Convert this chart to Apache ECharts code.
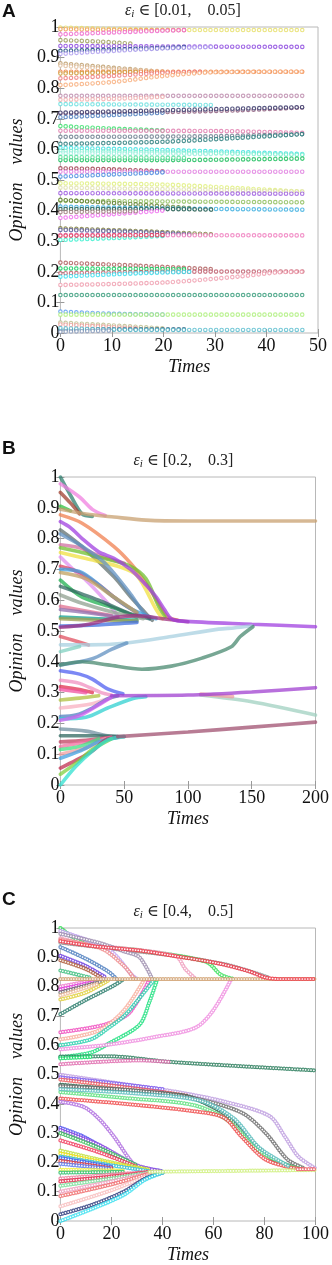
<!doctype html>
<html><head><meta charset="utf-8">
<style>
  html,body,#app{margin:0;padding:0;width:332px;height:1265px;background:#ffffff}
</style>
</head><body><div id="app"></div>
<script src="https://cdn.jsdelivr.net/npm/echarts@6/dist/echarts.min.js"></script>
<script>
// panel headings
const panelLetters = ['A', 'B', 'C'];
const panelRanges = ['[0.01,    0.05]', '[0.2,    0.3]', '[0.4,    0.5]'];
// axes
const xMax = [50, 200, 100];
const xStep = [10, 50, 20];
const yTicks = [0, 0.1, 0.2, 0.3, 0.4, 0.5, 0.6, 0.7, 0.8, 0.9, 1];

// A: eps in [0.01, 0.05] -- key points [time, opinion]
const trajA = [
  [[0,0.998],[15,0.992],[25,0.99],[47,0.99]],
  [[0,0.993],[15,0.99],[25,0.99]],
  [[0,0.976],[10,0.982],[20,0.988],[25,0.99]],
  [[0,0.957],[8,0.952],[14,0.945]],
  [[0,0.938],[25,0.936],[47,0.935]],
  [[0,0.922],[10,0.926],[25,0.935]],
  [[0,0.912],[8,0.92],[20,0.93],[30,0.935]],
  [[0,0.881],[8,0.87],[18,0.856]],
  [[0,0.874],[10,0.862],[20,0.855]],
  [[0,0.854],[47,0.854]],
  [[0,0.848],[15,0.853]],
  [[0,0.832],[10,0.84],[20,0.85],[28,0.854]],
  [[0,0.81],[10,0.82],[20,0.84],[30,0.852],[47,0.854]],
  [[0,0.775],[47,0.775]],
  [[0,0.762],[10,0.765],[20,0.772]],
  [[0,0.748],[30,0.745]],
  [[0,0.718],[20,0.722],[35,0.728],[47,0.737]],
  [[0,0.705],[10,0.712],[20,0.72]],
  [[0,0.72],[47,0.738]],
  [[0,0.676],[10,0.668],[20,0.662]],
  [[0,0.661],[30,0.66],[47,0.654]],
  [[0,0.641],[30,0.643],[47,0.65]],
  [[0,0.618],[20,0.625],[35,0.638],[47,0.65]],
  [[0,0.605],[20,0.598],[47,0.585]],
  [[0,0.595],[20,0.59],[47,0.582]],
  [[0,0.587],[30,0.585]],
  [[0,0.565],[20,0.565],[47,0.57]],
  [[0,0.575],[25,0.572]],
  [[0,0.538],[10,0.535],[20,0.528]],
  [[0,0.527],[47,0.527]],
  [[0,0.511],[10,0.518],[20,0.525]],
  [[0,0.489],[20,0.485],[35,0.473],[47,0.462]],
  [[0,0.475],[20,0.47],[47,0.462]],
  [[0,0.457],[47,0.455]],
  [[0,0.432],[47,0.427]],
  [[0,0.435],[15,0.42],[25,0.408]],
  [[0,0.413],[20,0.407],[47,0.403]],
  [[0,0.405],[20,0.405],[30,0.403]],
  [[0,0.376],[10,0.388],[20,0.4]],
  [[0,0.395],[15,0.398]],
  [[0,0.342],[20,0.33],[30,0.322]],
  [[0,0.337],[15,0.33],[25,0.322]],
  [[0,0.32],[47,0.319]],
  [[0,0.304],[10,0.31],[20,0.317]],
  [[0,0.318],[20,0.32]],
  [[0,0.23],[15,0.22],[30,0.208]],
  [[0,0.211],[25,0.208]],
  [[0,0.195],[20,0.2],[47,0.201]],
  [[0,0.184],[15,0.195],[25,0.2]],
  [[0,0.157],[20,0.165],[35,0.185],[42,0.198],[47,0.2]],
  [[0,0.124],[47,0.124]],
  [[0,0.07],[10,0.063],[20,0.06]],
  [[0,0.06],[47,0.06]],
  [[0,0.034],[10,0.025],[20,0.015]],
  [[0,0.028],[15,0.015]],
  [[0,0.01],[10,0.012],[25,0.012]],
  [[0,0.016],[15,0.01],[47,0.01]],
  [[0,0.004],[10,0.008]]
];

// B: eps in [0.2, 0.3]
const trajB = [
  [[0,1.0],[8,0.94],[17,0.88],[25,0.872]],
  [[0,0.978],[15,0.935],[25,0.895],[35,0.875]],
  [[0,0.95],[8,0.915],[15,0.88]],
  [[0,0.905],[8,0.89]],
  [[0,0.895],[20,0.88],[42,0.87],[67,0.86],[100,0.857],[200,0.857]],
  [[0,0.877],[17,0.85],[42,0.774],[55,0.72],[67,0.655],[77,0.59],[84,0.546],[92,0.535]],
  [[0,0.828],[17,0.774],[42,0.676],[55,0.611],[67,0.557],[72,0.535]],
  [[0,0.78],[15,0.77],[30,0.745],[50,0.72]],
  [[0,0.77],[17,0.755],[30,0.74],[55,0.71],[67,0.67],[77,0.58],[82,0.546]],
  [[0,0.755],[20,0.735],[45,0.71],[60,0.68],[75,0.57],[80,0.54]],
  [[0,0.815],[17,0.775],[35,0.72],[55,0.62],[65,0.56],[70,0.54]],
  [[0,0.74],[10,0.70],[20,0.665],[35,0.6],[45,0.55]],
  [[0,0.71],[15,0.69],[30,0.65],[45,0.6],[60,0.56]],
  [[0,0.70],[17,0.69],[42,0.61],[54,0.575],[67,0.55],[75,0.54]],
  [[0,0.69],[20,0.67],[42,0.61],[60,0.56]],
  [[0,0.665],[17,0.61],[42,0.575],[60,0.545]],
  [[0,0.645],[30,0.6],[54,0.557],[70,0.54]],
  [[0,0.617],[17,0.59],[42,0.56],[65,0.54]],
  [[0,0.58],[20,0.565],[40,0.55]],
  [[0,0.57],[20,0.56],[45,0.545]],
  [[0,0.545],[30,0.54],[60,0.535]],
  [[0,0.54],[30,0.535],[60,0.532]],
  [[0,0.516],[30,0.52],[60,0.528]],
  [[0,0.512],[20,0.52],[45,0.545],[60,0.55],[80,0.54],[100,0.53]],
  [[0,0.855],[8,0.835],[17,0.80],[30,0.757],[42,0.736],[55,0.70],[67,0.65],[75,0.611],[82,0.567],[87,0.54],[95,0.532],[150,0.522],[200,0.514]],
  [[0,0.482],[10,0.47],[22,0.455]],
  [[0,0.455],[22,0.455],[52,0.461],[87,0.482],[124,0.506],[136,0.51],[150,0.516]],
  [[0,0.433],[15,0.45]],
  [[0,0.39],[25,0.41],[40,0.44],[52,0.461]],
  [[0,0.39],[17,0.40],[37,0.39],[64,0.376],[87,0.386],[111,0.412],[134,0.449],[141,0.482],[151,0.514]],
  [[0,0.371],[15,0.36],[25,0.344],[37,0.312],[49,0.296]],
  [[0,0.34],[15,0.33],[32,0.30],[40,0.292]],
  [[0,0.32],[15,0.31],[25,0.30]],
  [[0,0.31],[20,0.3]],
  [[0,0.276],[15,0.282],[30,0.29]],
  [[0,0.25],[25,0.264],[37,0.28],[45,0.29]],
  [[0,0.222],[12,0.227],[25,0.25],[37,0.28],[45,0.29]],
  [[0,0.215],[20,0.22],[37,0.25],[57,0.281],[67,0.287]],
  [[0,0.21],[15,0.225],[30,0.26],[40,0.285]],
  [[110,0.292],[150,0.27],[200,0.227]],
  [[110,0.295],[135,0.287]],
  [[40,0.29],[100,0.292],[150,0.302],[200,0.316]],
  [[0,0.182],[20,0.175],[37,0.16],[50,0.157]],
  [[0,0.16],[25,0.16],[45,0.157]],
  [[0,0.14],[20,0.145],[40,0.155]],
  [[0,0.125],[20,0.14],[40,0.155]],
  [[0,0.115],[15,0.125],[30,0.15]],
  [[0,0.10],[20,0.12],[35,0.15]],
  [[0,0.087],[15,0.11],[30,0.14],[45,0.155]],
  [[0,0.055],[12,0.08],[25,0.11],[35,0.145],[45,0.155]],
  [[0,0.035],[12,0.07],[25,0.115],[40,0.15]],
  [[0,0.0],[12,0.06],[25,0.11],[37,0.146],[50,0.157]],
  [[45,0.157],[100,0.172],[150,0.188],[200,0.204]]
];

// C: eps in [0.4, 0.5]
const trajC = [
  [[0,0.95],[20,0.93],[45,0.905],[65,0.875],[75,0.85],[82,0.83]],
  [[0,1.0],[10,0.945],[30,0.925],[57,0.885],[63,0.84],[68,0.826]],
  [[0,0.965],[10,0.945],[45,0.905],[49,0.86],[53,0.826]],
  [[0,0.99],[10,0.96],[20,0.92],[28,0.84],[30,0.826]],
  [[0,0.98],[15,0.95],[25,0.92],[31,0.9],[36,0.826]],
  [[0,0.96],[16,0.93],[25,0.87],[29,0.826]],
  [[0,0.935],[10,0.895],[19,0.85],[22,0.826]],
  [[0,0.905],[10,0.87],[18,0.83]],
  [[0,0.89],[10,0.86],[16,0.83]],
  [[0,0.855],[12,0.83]],
  [[0,0.80],[12,0.82]],
  [[0,0.79],[15,0.82]],
  [[0,0.78],[18,0.822]],
  [[0,0.756],[10,0.78],[18.6,0.82]],
  [[0,0.77],[15,0.81]],
  [[0,0.706],[9,0.75],[21,0.804],[25,0.826]],
  [[0,0.644],[12,0.66],[19,0.675],[27,0.71],[35,0.826]],
  [[0,0.62],[15,0.65],[25,0.72],[33,0.826]],
  [[0,0.60],[12,0.62],[19,0.66],[25,0.7],[30,0.75],[37,0.826]],
  [[0,0.559],[12,0.575],[19,0.606],[31,0.67],[35,0.75],[38,0.826]],
  [[0,0.586],[19,0.602],[37,0.628],[53,0.66],[60,0.72],[67,0.826]],
  [[0,0.826],[100,0.826]],
  [[0,0.955],[12,0.939],[31,0.923],[43,0.907],[62,0.879],[74,0.852],[80,0.832],[85,0.826],[100,0.826]],
  [[0,0.561],[19,0.562],[43,0.543],[100,0.514]],
  [[0,0.535],[31,0.548],[43,0.543]],
  [[0,0.555],[12,0.56]],
  [[0,0.499],[25,0.467],[46,0.44],[64.5,0.407],[82,0.358],[88,0.288],[93,0.223],[98,0.19],[100,0.18]],
  [[0,0.49],[21,0.47],[40,0.45]],
  [[0,0.483],[21,0.461],[40,0.44],[50,0.427]],
  [[0,0.465],[21,0.45],[46,0.431],[52,0.42],[64.5,0.364],[73,0.288],[83,0.212],[93,0.18]],
  [[0,0.46],[30,0.445],[52,0.42],[71,0.37],[80.5,0.30],[89,0.21],[95,0.182]],
  [[0,0.44],[25,0.42],[52,0.396],[65.7,0.343],[77,0.245],[89,0.19],[95,0.177]],
  [[0,0.418],[25,0.4],[52,0.375],[64,0.353],[71,0.288],[80,0.212],[89,0.185],[95,0.177]],
  [[0,0.45],[30,0.435],[55,0.41],[68,0.35],[78,0.25],[90,0.185]],
  [[0,0.407],[9,0.39],[15,0.35],[21,0.288],[27,0.212],[30.5,0.18],[35,0.17]],
  [[0,0.318],[9,0.288],[21,0.228],[27,0.195],[33,0.18],[40,0.17]],
  [[0,0.31],[15,0.26],[30,0.19],[40,0.17]],
  [[0,0.30],[15,0.25],[30,0.19]],
  [[0,0.275],[15,0.235],[30,0.185]],
  [[0,0.24],[20,0.2],[35,0.175]],
  [[0,0.23],[20,0.195],[35,0.172]],
  [[0,0.22],[20,0.19],[35,0.17]],
  [[0,0.215],[20,0.185]],
  [[0,0.205],[20,0.18]],
  [[0,0.195],[20,0.178]],
  [[0,0.175],[25,0.172]],
  [[0,0.165],[25,0.168]],
  [[0,0.145],[20,0.158],[35,0.168]],
  [[0,0.135],[20,0.152],[35,0.167]],
  [[0,0.12],[20,0.145],[35,0.165]],
  [[0,0.10],[20,0.135],[35,0.163]],
  [[0,0.085],[20,0.125],[35,0.162]],
  [[0,0.05],[20,0.105],[35,0.158]],
  [[0,0.023],[12.4,0.055],[24.8,0.10],[33.5,0.146],[40,0.165]],
  [[0,0.0],[12,0.04],[25,0.09],[33,0.14],[40,0.165]],
  [[35,0.168],[100,0.174]],
  [[93,0.177],[100,0.177]]
];

// colours, one per trajectory
const colorsA = ['#e8e070','#f0a060','#f070d0','#a0a060','#9050e0','#205080','#b0a0f0','#c0a070','#e0c0a0','#f08040',
  '#d0a040','#f08080','#f8b080','#c090b0','#f0b0b0','#70e0e0','#906080','#5080c0','#404070','#40e070',
  '#e080b0','#708090','#308080','#40e0e0','#80f0d0','#a0f0e0','#20c060','#60e0a0','#a04050','#e080e0',
  '#5090e0','#e0f080','#e0e0b0','#a060e0','#90c060','#608030','#40b0e0','#306050','#f070f0','#a08080',
  '#808040','#6060a0','#f080c0','#40f0d0','#e04060','#b06060','#10d060','#c06070','#40e0f0','#f0a0b0',
  '#40a080','#60a0f0','#b0f080','#c0c090','#f0a0a0','#306080','#60c0d0','#90a0c0'];
const colorsB = ['#308070','#f080e0','#a04030','#30c040','#c8a070','#f08050','#607070','#d070a0','#70c030','#f0e040',
  '#6090c0','#e090f0','#e04060','#40a0e0','#c0a060','#20b050','#306860','#90a090','#e07090','#9070b0',
  '#10a090','#a0a050','#4070e0','#a03080','#a040e0','#e05060','#a8d0e0','#80d0c0','#6090c0','#4a8a70',
  '#5060f0','#f090c0','#e03050','#f050a0','#b0c040','#f8b0c0','#5080c0','#30d0d0','#d060f0','#a0d0c0',
  '#f0a0a0','#a040d0','#7090a0','#306860','#c04060','#f070a0','#40e080','#f0a0a0','#40a0e0','#c03050',
  '#80d040','#30e0d0','#a05070'];
const colorsC = ['#909090','#40e060','#f0a0c0','#c0a0f0','#a090b0','#f09090','#5080c0','#7040e0','#b06040','#40c080',
  '#f080d0','#e040e0','#707070','#e0d040','#f0c0a0','#308070','#f050c0','#f8b0a0','#30d0b0','#20e080',
  '#f090e0','#d0a070','#f04050','#308060','#e070b0','#20e070','#c0a0e0','#8060f0','#f06060','#306850',
  '#707070','#60e080','#f05050','#60c0c0','#b070e0','#5050f0','#9050e0','#40c060','#f04060','#c0e040',
  '#f0e020','#30c0e0','#4060f0','#e04040','#6080f0','#f0f040','#30c070','#f080a0','#e03050','#80e0a0',
  '#f0a0c0','#f07070','#f8c0c0','#304080','#40e0f0','#d0f080','#f06070'];

(function () {
  const serif = "'Liberation Serif', 'DejaVu Serif', serif";
  const grids = [
    { left: 50, top: 27, width: 268, height: 306 },
    { left: 50, top: 477, width: 269, height: 308 },
    { left: 50, top: 928, width: 269, height: 307 }
  ];
  const trajs = [trajA, trajB, trajC];
  const colors = [colorsA, colorsB, colorsC];
  // marker look: A and C as rings (colour dot + white centre), B as thick band
  const looks = [
    { w: 4.6, gap: 5.36, inner: 2.3, op: 0.85 },
    { w: 3.6, gap: 0, inner: 0, op: 0.75 },
    { w: 4.2, gap: 2.69, inner: 1.7, op: 0.85 }
  ];

  const xAxis = [], yAxis = [], series = [], graphic = [];
  const tickStyle = { show: true, inside: true, length: 4, lineStyle: { color: '#999', width: 1 } };

  grids.forEach(function (g, i) {
    g.show = true; g.borderColor = '#b8b8b8'; g.borderWidth = 1;
    xAxis.push({
      type: 'value', gridIndex: i, min: 0, max: xMax[i], interval: xStep[i],
      name: 'Times', nameLocation: 'middle', nameGap: 25,
      nameTextStyle: { fontFamily: serif, fontStyle: 'italic', fontSize: 18, color: '#111' },
      axisLine: { show: false }, axisTick: tickStyle, splitLine: { show: false },
      axisLabel: { fontFamily: serif, fontSize: 18, color: '#111', margin: 4 }
    });
    xAxis.push({
      type: 'value', gridIndex: i, position: 'top', min: 0, max: xMax[i], interval: xStep[i],
      axisLine: { show: false }, axisTick: tickStyle, splitLine: { show: false }, axisLabel: { show: false }
    });
    yAxis.push({
      type: 'value', gridIndex: i, min: 0, max: 1, interval: 0.1,
      name: 'Opinion    values', nameLocation: 'middle', nameGap: 27, nameRotate: 90,
      nameTextStyle: { fontFamily: serif, fontStyle: 'italic', fontSize: 18, color: '#111' },
      axisLine: { show: false }, axisTick: tickStyle, splitLine: { show: false },
      axisLabel: {
        fontFamily: serif, fontSize: 18, color: '#111', margin: 1,
        formatter: function (v) { return (v === 0 || v === 1) ? String(v) : v.toFixed(1); }
      }
    });
    yAxis.push({
      type: 'value', gridIndex: i, position: 'right', min: 0, max: 1, interval: 0.1,
      axisLine: { show: false }, axisTick: tickStyle, splitLine: { show: false }, axisLabel: { show: false }
    });

    const lk = looks[i];
    trajs[i].forEach(function (d, j) {
      const base = {
        type: 'line', xAxisIndex: 2 * i, yAxisIndex: 2 * i, data: d,
        symbol: 'none', smooth: 0.3, silent: true, animation: false
      };
      series.push(Object.assign({}, base, {
        lineStyle: {
          color: colors[i][j % colors[i].length], width: lk.w, opacity: lk.op,
          type: lk.gap ? [0.01, lk.gap] : 'solid', cap: 'round'
        }
      }));
      if (lk.inner) {
        series.push(Object.assign({}, base, {
          lineStyle: { color: '#ffffff', width: lk.inner, opacity: 1, type: [0.01, lk.gap], cap: 'round' }
        }));
      }
    });

    graphic.push({
      type: 'text', x: 2, y: g.top - (i === 0 ? 25 : 38),
      style: { text: panelLetters[i], font: 'bold 19px "Liberation Sans", Arial, sans-serif', fill: '#111' }
    });
    graphic.push({
      type: 'text', x: g.left + g.width / 2 - 1, y: g.top - 16,
      style: {
        text: '{e|ε}{s|i}{n| ∈ ' + panelRanges[i] + '}',
        align: 'center', verticalAlign: 'middle',
        rich: {
          e: { fontFamily: serif, fontStyle: 'italic', fontSize: 16, fill: '#222' },
          s: { fontFamily: serif, fontStyle: 'italic', fontSize: 11, fill: '#222', padding: [6, 0, 0, 0] },
          n: { fontFamily: serif, fontSize: 16, fill: '#222' }
        }
      }
    });
  });

  const chart = echarts.init(document.getElementById('app'), null, { renderer: 'canvas' });
  chart.setOption({
    backgroundColor: '#ffffff',
    animation: false,
    grid: grids, xAxis: xAxis, yAxis: yAxis, series: series, graphic: graphic
  });
})();
</script></body></html>
